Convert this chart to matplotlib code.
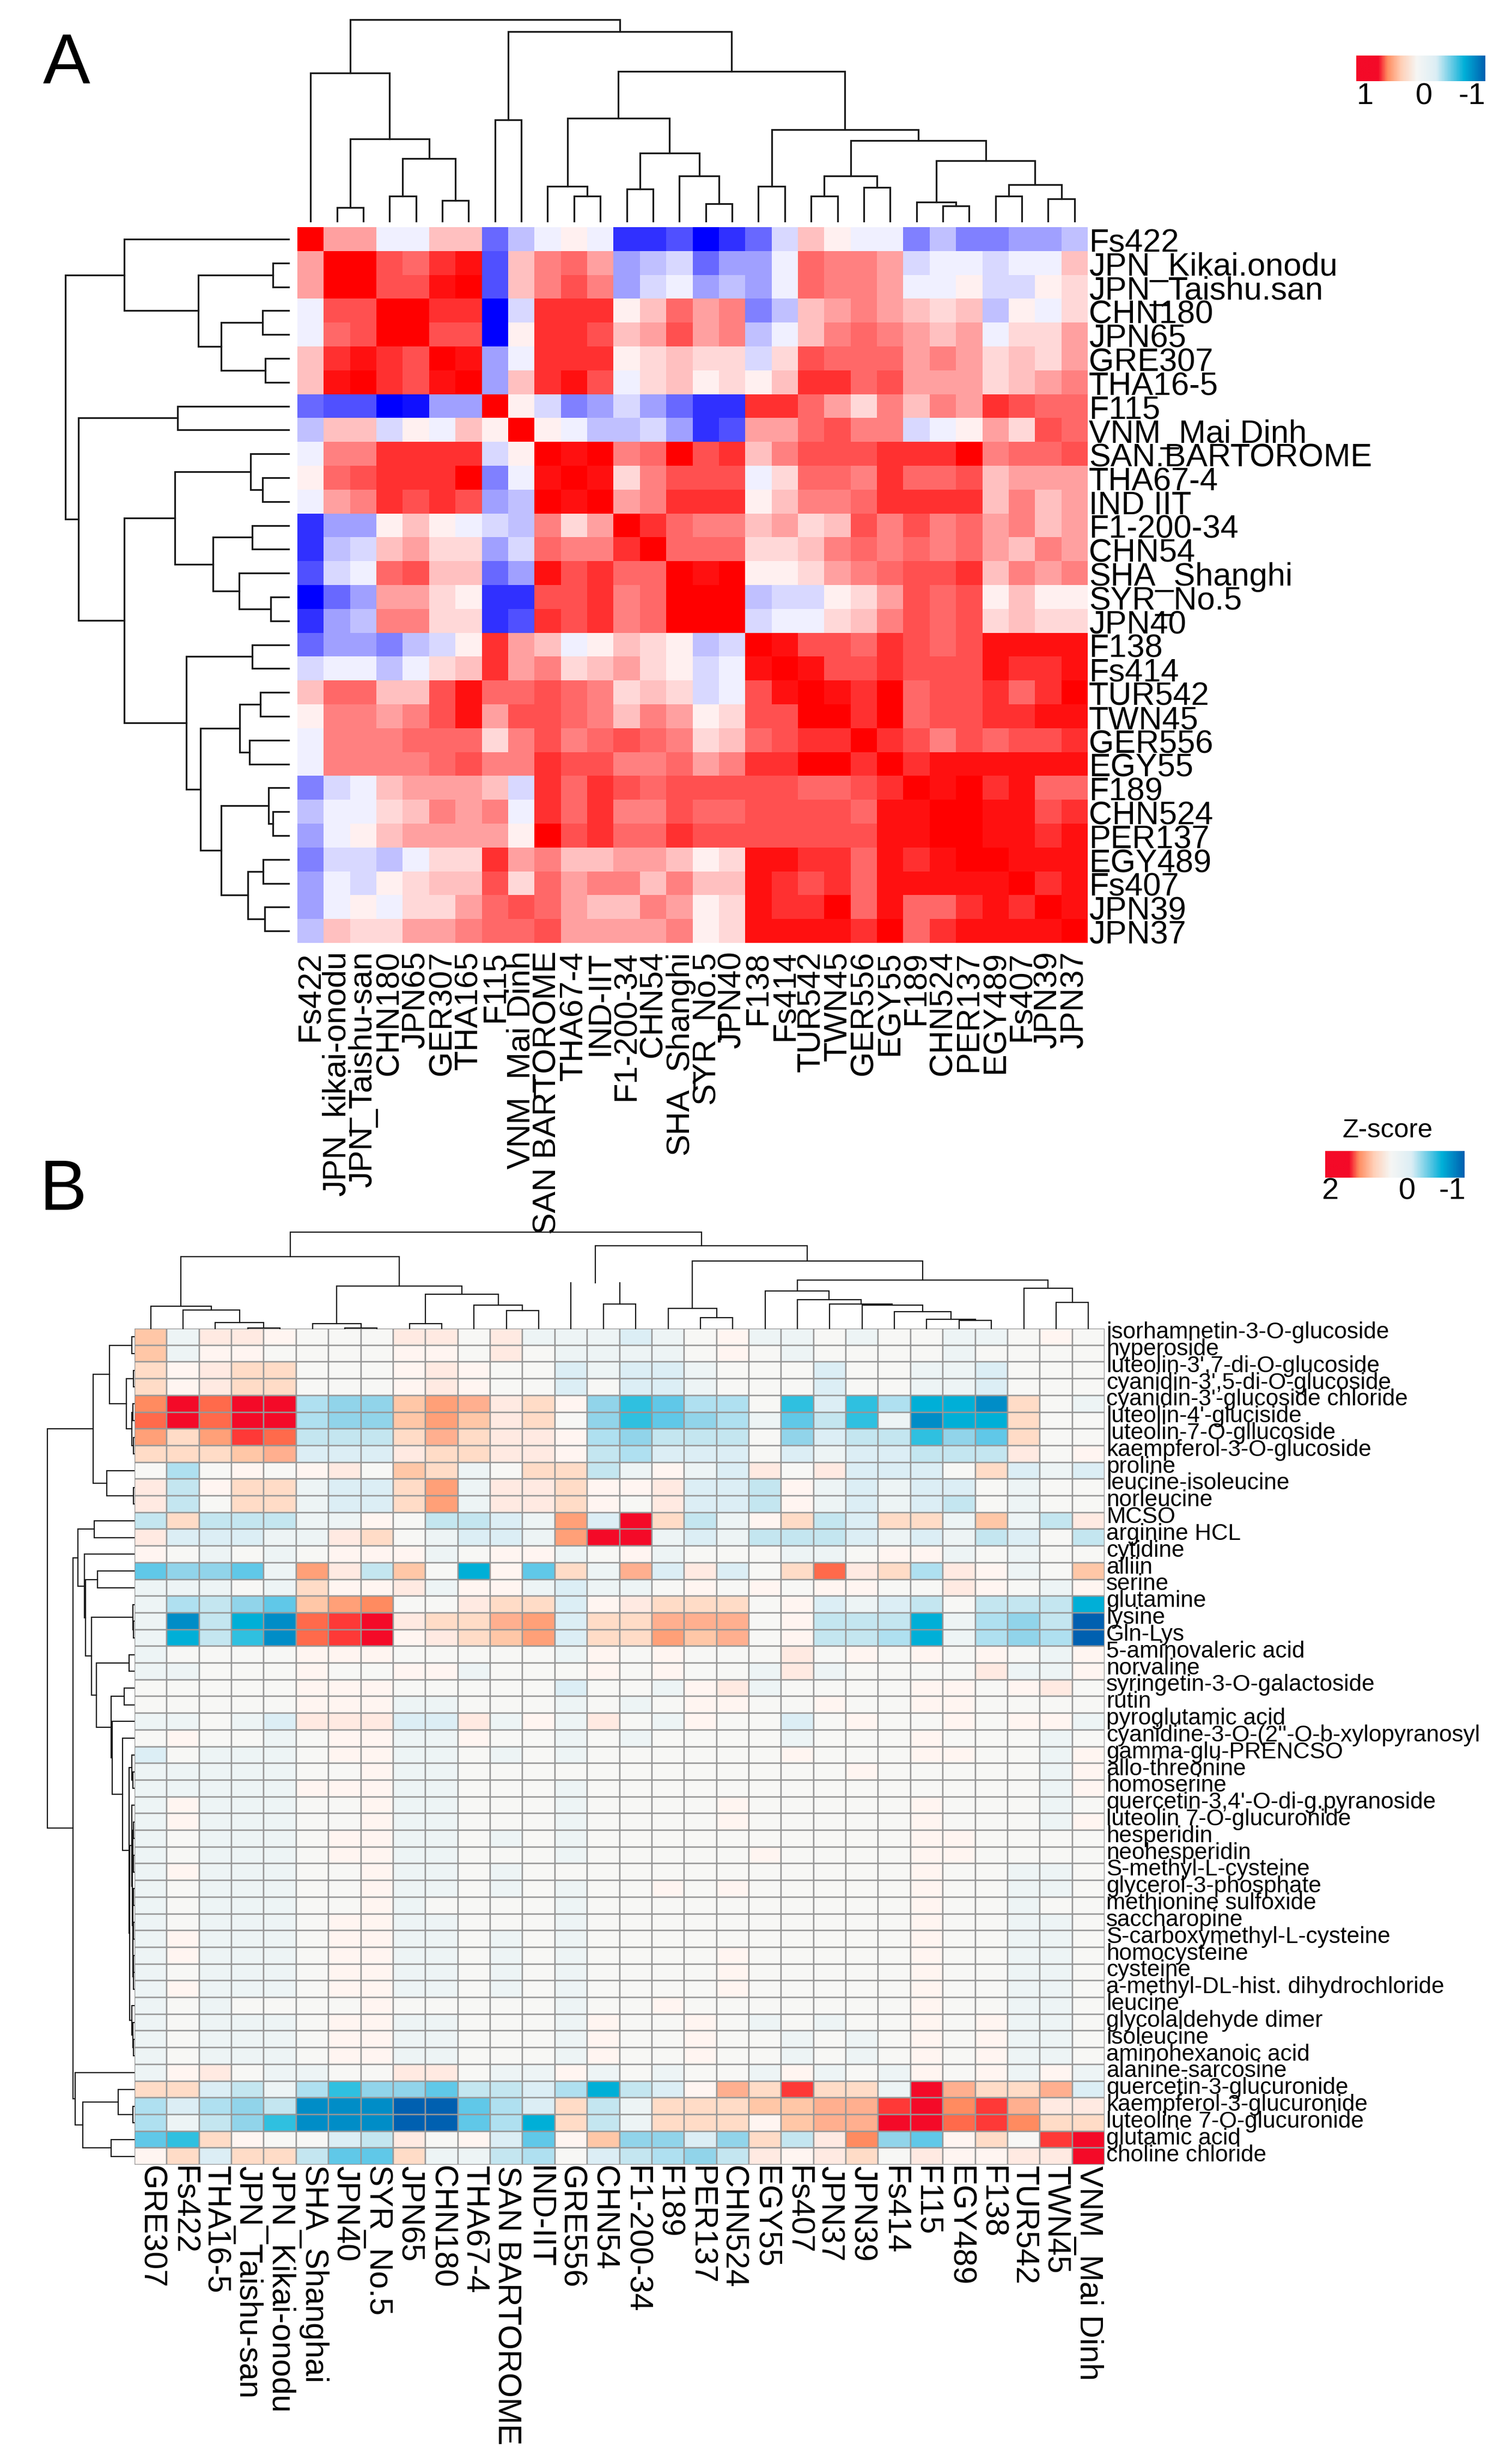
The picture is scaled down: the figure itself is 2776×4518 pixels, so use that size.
import numpy as np
import matplotlib
matplotlib.use("Agg")
import matplotlib.pyplot as plt
from matplotlib.colors import ListedColormap, BoundaryNorm, LinearSegmentedColormap

plt.rcParams['font.family'] = ['Liberation Sans', 'DejaVu Sans']

W, H = 2776, 4518
DPI = 100
PT = 72 / DPI  # one pixel in points

L = None  # leaf of a dendrogram

# ---------------------------- panel A data ----------------------------
A_ROW_LABELS = ["Fs422", "JPN_Kikai.onodu", "JPN_Taishu.san", "CHN180", "JPN65", "GRE307", "THA16-5", "F115",
                "VNM_Mai Dinh", "SAN.BARTOROME", "THA67-4", "IND IIT", "F1-200-34", "CHN54", "SHA_Shanghi",
                "SYR_No.5", "JPN40", "F138", "Fs414", "TUR542", "TWN45", "GER556", "EGY55", "F189", "CHN524",
                "PER137", "EGY489", "Fs407", "JPN39", "JPN37"]
A_COL_LABELS = ["Fs422", "JPN_kikai-onodu", "JPN_Taishu-san", "CHN180", "JPN65", "GER307", "THA165", "F115",
                "VNM_Mai Dinh", "SAN BARTOROME", "THA67-4", "IND-IIT", "F1-200-34", "CHN54", "SHA_Shanghi",
                "SYR_No.5", "JPN40", "F138", "Fs414", "TUR542", "TWN45", "GER556", "EGY55", "F189", "CHN524",
                "PER137", "EGY489", "Fs407", "JPN39", "JPN37"]
# correlation level, -10 (full blue) .. 10 (full red)
A_VALUES = [
    [10,4,4,-1,-1,3,3,-6,-3,-1, 1,-1,-8,-8,-7,-10,-8,-6,-2,3, 1,-1,-1,-5,-3,-5,-5,-4,-4,-3],
    [4,10,10,7,6,8,9,-7,3,5, 6,4,-4,-3,-2,-6,-4,-4,-1,6, 5,5,4,-2,-1,-1,-2,-1,-1,3],
    [4,10,10,7,7,9,10,-7,3,5, 7,5,-4,-2,-1,-4,-3,-4,-1,6, 5,5,4,-1,-1,1,-2,-2,1,2],
    [-1,7,7,10,10,8,8,-10,-2,8, 8,8,1,3,6,4,5,-5,-3,3, 4,5,4,3,2,3,-3,1,-1,2],
    [-1,6,7,10,10,7,7,-10,1,8, 8,7,3,4,7,4,5,-3,-1,3, 5,6,5,4,3,4,-1,2,2,4],
    [3,8,9,8,7,10,9,-4,-1,8, 8,8,1,2,3,2,2,-2,2,7, 6,6,6,4,5,4,2,3,2,4],
    [3,9,10,8,7,9,10,-4,3,8, 9,7,-1,2,3,1,2,1,3,8, 8,6,7,4,4,4,2,3,4,5],
    [-6,-7,-7,-10,-9,-4,-4,10,1,-2, -5,-4,-2,-4,-6,-8,-8,8,8,6, 4,2,5,3,5,4,8,7,6,6],
    [-3,3,3,-2,1,-1,3,1,10,1, -1,-3,-3,-2,-4,-8,-7,4,4,6, 7,5,5,-2,-1,1,4,2,7,6],
    [-1,5,5,8,8,8,8,-2,1,10, 9,10,5,6,10,7,8,3,5,7, 7,7,8,8,8,10,5,6,6,7],
    [1,6,7,8,8,8,10,-5,-1,9, 10,9,2,5,7,7,7,-1,2,6, 6,5,8,6,6,7,3,4,4,4],
    [-1,4,5,8,7,8,7,-4,-3,10, 9,10,4,5,8,8,8,1,3,5, 5,6,8,8,8,8,3,5,3,4],
    [-8,-4,-4,1,3,1,-1,-2,-3,5, 2,4,10,8,6,5,5,3,4,2, 3,7,5,7,5,6,4,5,3,4],
    [-8,-3,-2,3,4,2,2,-4,-2,6, 5,5,8,10,6,6,6,2,2,3, 5,6,5,6,5,6,4,3,5,4],
    [-7,-2,-1,6,7,3,3,-6,-4,9, 7,8,6,6,10,9,10,1,1,2, 4,5,6,7,7,8,3,5,4,5],
    [-10,-6,-4,4,4,2,1,-8,-8,7, 7,8,5,6,10,10,10,-3,-2,-2, 1,2,4,7,6,7,1,3,1,1],
    [-8,-4,-3,5,5,2,2,-8,-7,8, 7,8,5,6,10,10,10,-2,-1,-1, 2,3,5,7,6,7,2,3,2,2],
    [-6,-4,-4,-5,-3,-2,1,8,4,3, -1,1,3,2,1,-3,-2,10,9,7, 7,6,8,7,6,7,9,9,9,9],
    [-2,-1,-1,-3,-1,2,3,8,4,5, 2,3,4,2,1,-2,-1,9,10,9, 7,7,8,7,7,7,9,8,8,9],
    [3,6,6,3,3,7,9,6,6,7, 6,5,2,3,2,-2,-1,7,9,10, 9,8,10,6,7,7,8,6,8,10],
    [1,5,5,4,5,7,9,4,7,7, 6,5,3,5,4,1,2,7,7,10, 10,8,10,6,7,7,8,8,9,9],
    [-1,5,5,5,6,6,6,2,5,7, 5,6,7,6,5,2,3,6,7,8, 8,10,8,7,5,7,6,7,7,8],
    [-1,5,5,5,5,6,7,5,5,8, 7,7,5,5,6,4,5,8,8,10, 10,8,10,8,9,9,9,9,9,9],
    [-5,-2,-1,3,4,4,4,3,-2,8, 6,8,7,6,7,7,7,7,7,6, 6,7,8,10,9,10,8,9,6,6],
    [-3,-1,-1,2,3,5,4,5,-1,8, 6,8,5,5,7,6,6,7,7,7, 7,6,9,9,10,10,9,9,7,8],
    [-4,-1,1,3,4,4,4,4,1,10, 7,8,6,6,8,7,7,7,7,7, 7,7,9,9,10,10,9,9,8,9],
    [-5,-2,-2,-3,-1,2,2,8,4,5, 3,3,4,4,3,1,2,9,9,8, 8,6,9,8,9,10,10,9,9,9],
    [-4,-1,-2,1,2,3,3,7,2,6, 4,5,5,3,5,3,3,9,8,7, 8,6,9,9,9,9,9,10,8,9],
    [-4,-1,1,-1,2,2,4,6,7,6, 4,3,3,5,4,1,2,9,8,8, 10,6,9,6,6,8,9,8,10,9],
    [-3,3,2,2,4,4,5,6,6,7, 4,4,4,4,5,1,2,9,9,9, 9,8,10,6,8,9,9,9,9,10],
]
A_LEVEL_COLOURS = ["#0000ff", "#1010ff", "#3030ff", "#5050ff", "#6868ff", "#8080ff", "#a0a0ff", "#c0c0ff",
                   "#d8d8ff", "#f0f0ff", "#ffffff", "#fff0f0", "#ffd8d8", "#ffc0c0", "#ffa0a0", "#ff8080",
                   "#ff6868", "#ff5050", "#ff3030", "#ff1010", "#ff0000"]
# dendrograms: (height, first child, second child[, draw cross bar]) in leaf order
A_TOP_TREE = (370,
    (272, L, (151, (25, L, L), (115, (46, L, L), (38, L, L)))),
    (348, (186, L, L),
        (275,
            (189, (64, L, (46, L, L)), (125, (59, L, L), (83, L, (32, L, L)))),
            (168, (64, L, L), (148, (83, (46, L, L), (62, L, L)),
                                    (111, (35, L, (28, L, L)), (67, (46, L, L), (41, L, L))))))))
A_LEFT_TREE = (410,
    (302, L, (166, (29, L, L), (124, (48, L, L), (43, L, L)))),
    (386, (204, L, L),
        (302, (209, (70, L, (48, L, L)), (139, (67, L, L), (91, L, (33, L, L)))),
              (188, (67, L, L), (162, (90, (52, L, L), (72, L, L)),
                                      (124, (37, L, (29, L, L)), (75, (47, L, L), (44, L, L))))))))

# ---------------------------- panel B data ----------------------------
B_ROW_LABELS = ["isorhamnetin-3-O-glucoside", "hyperoside", "luteolin-3',7-di-O-glucoside",
                "cyanidin-3',5-di-O-glucoside", "cyanidin-3'-glucoside chloride", "luteolin-4'-gluciside",
                "luteolin-7-O-gllucoside", "kaempferol-3-O-glucoside", "proline", "leucine-isoleucine", "norleucine",
                "MCSO", "arginine HCL", "cytidine", "alliin", "serine", "glutamine", "lysine", "Gln-Lys",
                "5-aminovaleric acid", "norvaline", "syringetin-3-O-galactoside", "rutin", "pyroglutamic acid",
                "cyanidine-3-O-(2''-O-b-xylopyranosyl", "gamma-glu-PRENCSO", "allo-threonine", "homoserine",
                "quercetin-3,4'-O-di-g.pyranoside", "luteolin 7-O-glucuronide", "hesperidin", "neohesperidin",
                "S-methyl-L-cysteine", "glycerol-3-phosphate", "methionine sulfoxide", "saccharopine",
                "S-carboxymethyl-L-cysteine", "homocysteine", "cysteine", "a-methyl-DL-hist. dihydrochloride",
                "leucine", "glycolaldehyde dimer", "isoleucine", "aminohexanoic acid", "alanine-sarcosine",
                "quercetin-3-glucuronide", "kaempferol-3-glucuronide", "luteoline 7-O-glucuronide", "glutamic acid",
                "choline chloride"]
B_COL_LABELS = ["GRE307", "Fs422", "THA16-5", "JPN_Taishu-san", "JPN_Kikai-onodu", "SHA_Shanghai", "JPN40",
                "SYR_No.5", "JPN65", "CHN180", "THA67-4", "SAN BARTOROME", "IND-IIT", "GRE556", "CHN54", "F1-200-34",
                "F189", "PER137", "CHN524", "EGY55", "Fs407", "JPN37", "JPN39", "Fs414", "F115", "EGY489", "F138",
                "TUR542", "TWN45", "VNM_Mai Dinh"]
# colour level, -10 (dark blue) .. 10 (red)
B_VALUES = [
    [4,-1,2,2,1,0,0,0,2,2, 0,2,-1,-1,-1,-2,-1,0,1,-1, -1,0,-1,0,0,-1,-1,0,1,0],
    [4,-1,1,1,0,0,0,0,1,1, 0,2,0,-1,-1,-1,-1,0,1,0, -1,0,0,0,0,-1,0,0,0,0],
    [3,1,2,3,3,0,0,0,1,2, 1,0,0,-2,-1,-2,-2,-1,0,0, 0,-2,0,0,-1,-1,-2,0,0,0],
    [3,1,2,3,3,0,0,0,1,2, 1,0,0,-2,0,-2,-2,-1,0,0, 0,-2,0,0,-1,-1,-2,0,0,0],
    [7,10,8,10,10,-4,-5,-5,4,6, 5,2,3,1,-5,-7,-6,-4,-4,0, -7,-2,-7,-4,-8,-8,-9,3,0,-1],
    [8,10,8,10,10,-4,-5,-5,4,6, 4,2,3,0,-5,-7,-6,-5,-4,-1, -6,-3,-7,-1,-9,-8,-8,3,0,0],
    [6,3,6,9,8,-3,-3,-3,3,5, 3,2,2,1,-4,-5,-3,-3,-3,0, -5,-2,-3,-3,-7,-5,-6,3,0,0],
    [3,3,3,4,5,-2,-2,-2,2,3, 3,2,2,1,-3,-4,-2,-2,-2,0, -2,-1,-2,-2,-3,-3,-3,2,0,1],
    [0,-4,0,1,0,1,2,0,4,3, -1,0,3,3,-3,-1,1,-1,-2,2, 0,2,-2,-2,-2,0,3,-2,-1,-2],
    [2,-3,1,3,3,-1,-2,-2,3,6, -1,2,2,3,1,1,2,-2,-2,-3, 1,-1,-2,-1,-2,-2,0,-1,0,0],
    [2,-3,0,3,3,-1,-2,-2,3,6, -1,2,2,3,1,0,2,-2,-2,-3, 1,-1,-2,-1,-2,-3,0,-1,0,0],
    [-3,3,-3,-3,-3,-1,-1,1,0,-3, -3,-2,-1,6,-2,10,3,-3,-1,1, 3,-3,-2,3,3,-1,4,-1,-3,2],
    [2,-2,-2,-2,-1,-1,2,3,0,-1, -2,-2,-1,6,10,10,-1,-2,-1,-3, -3,-3,-2,-1,-2,-1,-3,-2,0,-3],
    [1,0,-1,0,-1,0,1,1,1,-1, 0,1,1,-1,0,1,-1,0,0,0, -1,-1,0,1,1,-1,0,-1,0,0],
    [-6,-5,-5,-6,-1,6,2,-3,4,0, -8,1,-6,3,-1,5,-2,2,-2,0, 3,8,2,3,-4,2,1,-1,0,4],
    [-1,-1,-1,0,-1,3,1,1,2,-1, 1,1,-1,-2,-1,-1,0,1,0,1, 0,1,1,0,0,2,1,0,-1,1],
    [-1,-4,-3,-5,-6,4,6,7,0,0, 2,3,3,-2,1,2,3,3,3,0, 1,-2,-1,-2,-3,0,-3,-3,-3,-8],
    [-1,-9,-3,-8,-9,8,9,10,2,3, 3,5,6,-2,3,3,5,5,5,0, 1,-3,-3,-3,-8,-1,-4,-5,-3,-10],
    [-1,-8,-3,-7,-9,8,9,10,1,2, 3,4,6,-2,3,3,6,4,5,0, 1,-3,-3,-4,-8,-1,-4,-5,-4,-10],
    [-1,0,0,0,0,1,1,1,0,0, 0,0,0,-1,1,0,1,0,0,0, 2,0,1,0,1,0,1,0,-1,1],
    [-1,-1,0,0,0,1,0,0,1,1, -1,0,0,0,1,0,1,0,0,-1, 2,-1,0,0,0,0,2,-1,-1,1],
    [0,0,0,0,0,1,1,1,0,0, 0,0,0,-2,0,0,-1,1,2,-1, 0,0,0,0,1,1,0,1,2,0],
    [0,0,0,0,0,1,1,1,-1,-1, 0,0,0,-1,0,-1,0,1,1,0, 0,1,0,0,1,1,0,0,0,0],
    [-1,-1,0,-1,-2,2,2,2,-2,-2, 2,-1,1,-1,2,0,-1,1,0,0, -2,0,1,0,0,1,0,1,1,-1],
    [0,1,0,0,-1,0,1,1,-1,-1, 1,0,0,-1,0,-1,0,0,0,0, -1,0,0,0,1,0,0,0,-1,0],
    [-2,0,-1,-1,-1,0,1,1,-1,-1, 0,-1,0,-1,0,0,0,0,0,0, 1,0,0,0,1,1,0,0,-1,1],
    [-1,-1,-1,-1,-1,0,0,1,-1,-1, 0,0,0,0,0,0,0,0,0,0, 0,0,1,0,0,0,0,0,-1,1],
    [-1,-1,-1,-1,-1,1,1,1,-1,-1, 0,0,0,-1,0,0,0,0,0,0, 0,0,0,0,0,0,0,0,-1,1],
    [-1,1,-1,-1,-1,0,0,1,-1,-1, 0,0,0,-1,0,0,0,0,1,0, 0,0,0,0,1,0,0,0,-1,0],
    [-1,1,-1,-1,-1,0,0,1,-1,-1, 0,0,0,-1,0,0,0,0,1,0, 0,0,0,0,1,0,0,0,-1,1],
    [-1,0,-1,-1,-1,0,1,1,-1,-1, 0,-1,0,-1,0,0,0,0,0,0, 0,0,0,0,1,1,0,0,0,0],
    [-1,0,-1,-1,-1,0,1,1,-1,-1, 0,0,0,-1,0,0,0,0,0,1, 0,0,0,0,1,1,0,0,0,0],
    [-1,1,-1,-1,-1,0,0,1,-1,-1, 0,-1,0,0,0,0,0,0,0,0, 0,0,0,0,1,0,0,-1,-1,0],
    [-1,0,-1,-1,-1,0,0,1,-1,-1, 0,-1,0,-1,0,0,1,0,1,0, 0,0,0,0,1,0,0,-1,-1,0],
    [-1,0,-1,-1,-1,0,0,1,-1,0, 0,0,0,-1,0,0,0,0,0,0, 0,0,0,0,1,0,0,-1,0,0],
    [-1,0,-1,-1,-1,0,1,1,-1,-1, 0,0,0,-1,0,0,0,0,0,0, 0,0,0,0,1,0,0,-1,-1,0],
    [-1,1,-1,-1,-1,0,1,1,-1,-1, 0,-1,0,-1,0,0,0,0,0,0, 0,0,0,0,1,0,0,-1,-1,0],
    [-1,1,-1,-1,-1,0,1,1,-1,-1, 0,-1,0,-1,0,0,0,0,1,0, 0,0,0,0,1,0,0,-1,-1,0],
    [-1,0,-1,-1,-1,0,1,1,-1,-1, 0,-1,0,-1,0,0,0,0,1,0, 0,0,0,0,1,0,0,-1,-1,0],
    [-1,1,-1,-1,-1,0,1,1,-1,-1, 0,-1,0,-1,0,0,0,0,1,0, 0,0,0,0,1,0,0,-1,-1,0],
    [-1,0,-1,0,0,0,0,1,0,0, 0,0,0,-1,0,0,1,0,0,0, 0,0,0,0,1,0,0,-1,-1,0],
    [-1,0,-1,-1,-1,0,1,1,-1,-1, 0,0,0,-1,1,0,0,1,0,-1, 0,-1,0,0,1,0,1,-1,-1,0],
    [-1,0,-1,-1,-1,0,1,1,-1,-1, 0,0,0,-1,1,0,0,1,0,0, -1,0,-1,0,1,0,1,-1,-1,0],
    [-1,0,-1,-1,-1,0,1,1,-1,-1, 0,0,0,-1,1,0,0,1,0,0, -1,0,-1,0,1,0,1,-1,-1,0],
    [-1,1,2,0,-1,-1,0,0,2,2, 0,-1,-1,1,-1,0,-1,0,0,-1, 1,-1,0,-1,1,0,1,-1,1,-1],
    [3,3,-2,-3,-1,-4,-7,-5,-5,-6, -3,-3,-2,-4,-8,-3,-2,1,5,3, 9,3,3,-1,10,5,3,3,5,-2],
    [-4,-2,-4,-5,-3,-9,-9,-9,-10,-10, -6,-4,-2,3,-3,-1,3,3,3,4, 4,5,5,9,10,7,9,5,2,2],
    [-4,-1,-3,-5,-7,-9,-9,-9,-10,-10, -6,-4,-8,3,-3,-1,3,3,3,1, 4,5,5,10,10,8,9,7,3,3],
    [-6,-7,3,1,0,0,-2,-3,2,0, 1,-2,-6,1,4,-5,-5,-2,-5,3, -3,2,7,-5,-6,1,3,0,9,10],
    [1,3,-2,3,3,-3,-6,-6,3,-1, -1,-3,-4,0,-2,-3,-4,-5,-3,2, 1,2,3,0,2,1,1,2,2,10],
]
B_LEVEL_COLOURS = ["#0060b0", "#0090c8", "#00b0d8", "#30c0e0", "#60c8e8", "#90d4ea", "#b0e0f0", "#c4e6f0",
                   "#dceef5", "#edf4f5", "#f7f7f5", "#fff5f1", "#ffeae2", "#ffdcc8", "#ffc8a8", "#ffb090",
                   "#ffa078", "#ff8c60", "#ff6c4c", "#ff3c38", "#f40a28"]
B_TOP_TREE = (177,
    (132, (41, L, (34, L, (11, L, (1, L, L)))),
          (78, (9, L, (1, L, L)), (63, (9, L, L), (43, L, (33, L, L))))),
    (152, (84, L, (45, L, L), False),
          (124, (37, L, (20, L, L)),
                (89, (69, L, (53, L, (45, L, (43, L, (31, L, (17, L, (15, L, L))))))),
                     (74, L, (48, L, L))))))
B_CHAIN_A = (4, L, (3, (2, (1, L, L), (1, L, L)), (2, (1, L, L), (2, (1, L, L), (1, (1, L, L), L)))))
B_CHAIN_B = (4, L, (2, L, (1, L, L)))
B_LEFT_TREE = (159,
    (75, (45, (4, L, L), (14, (1, L, L), (4, (2, L, L), (1, L, L)))), (50, L, (1, L, L))),
    (112,
        (103, (73, L, L),
              (91, L, (89, (67, L, L),
                       (78, (2, L, (1, L, L)),
                        (69, (9, L, L),
                         (42, (18, L, L),
                          (40, L, (21, L, (9, (4, L, (2, L, L)), (8, B_CHAIN_A, B_CHAIN_B))))))))) ),
        (108, L, (94, (29, L, (2, L, L)), (42, L, L)))))

LEGEND_STOPS = [(0.0, "#f40a28"), (0.17, "#f40a28"), (0.24, "#ff8c60"), (0.35, "#ffd0b8"), (0.47, "#f6f6f4"),
                (0.62, "#dceef5"), (0.78, "#40c0e0"), (0.84, "#00b0d8"), (1.0, "#0060b0")]


# ---------------------------- helpers ----------------------------
fig = plt.figure(figsize=(W / DPI, H / DPI), dpi=DPI, facecolor="white")


def ax_px(x0, y0, x1, y1):
    """Axes from a box given in image pixels (y downwards)."""
    ax = fig.add_axes([x0 / W, 1 - y1 / H, (x1 - x0) / W, (y1 - y0) / H])
    for s in ax.spines.values():
        s.set_visible(False)
    ax.tick_params(length=0)
    return ax


def draw_tree(ax, tree, vertical, lw, colour):
    n = [0]

    def seg(xs, hs):
        if vertical:
            ax.plot(xs, hs, color=colour, lw=lw, solid_capstyle="projecting", solid_joinstyle="miter", clip_on=False)
        else:
            ax.plot(hs, xs, color=colour, lw=lw, solid_capstyle="projecting", solid_joinstyle="miter", clip_on=False)

    def walk(node):
        if node is None:
            n[0] += 1
            return n[0] - 0.5, 0
        h, a, b = node[:3]
        pa, ha = walk(a)
        pb, hb = walk(b)
        if len(node) > 3 and node[3] is False:
            seg([pa, pa], [ha, h])
            seg([pb, pb], [hb, h])
        else:
            seg([pa, pa, pb, pb], [ha, h, h, hb])
        return (pa + pb) / 2, h

    walk(tree)
    return n[0]


def heat_axes(box, values, cmap, norm, edge=None, lw=0):
    ax = ax_px(*box)
    v = np.array(values)
    ax.pcolormesh(np.arange(v.shape[1] + 1), np.arange(v.shape[0] + 1), v, cmap=cmap, norm=norm,
                  edgecolors=edge if edge else "face", linewidth=lw, antialiased=bool(edge))
    ax.set_xlim(0, v.shape[1])
    ax.set_ylim(v.shape[0], 0)
    return ax


def legend(box, labels, size):
    ax = ax_px(*box)
    cm = LinearSegmentedColormap.from_list("legend", LEGEND_STOPS)
    ax.imshow(np.linspace(0, 1, 300)[None, :], aspect="auto", cmap=cm, vmin=0, vmax=1)
    ax.set_xticks([])
    ax.set_yticks([])
    for txt, x, ha, y in labels:
        fig.text(x / W, 1 - y / H, txt, ha=ha, va="center", fontsize=size * PT, color="black")


# ---------------------------- panel A ----------------------------
A_BOX = (546, 417, 1997, 1731)
cmapA = ListedColormap(A_LEVEL_COLOURS)
normA = BoundaryNorm(np.arange(-10.5, 11.5, 1), cmapA.N)
axA = heat_axes(A_BOX, A_VALUES, cmapA, normA)
axA.xaxis.tick_bottom()
axA.set_xticks(np.arange(30) + 0.5)
axA.set_xticklabels(A_COL_LABELS, rotation=90, ha="center", va="top", fontsize=59.5 * PT)
axA.tick_params(axis="x", pad=15 * PT, length=0)
axA.yaxis.tick_right()
axA.set_yticks(np.arange(30) + 0.5 + 0.18)
axA.set_yticklabels(A_ROW_LABELS, ha="left", va="center", fontsize=59.5 * PT)
axA.tick_params(axis="y", pad=2 * PT, length=0)

axAt = ax_px(546, 405.5 - 372, 1997, 405.5)
axAt.set_xlim(0, 30)
axAt.set_ylim(0, 372)
draw_tree(axAt, A_TOP_TREE, True, 3.2 * PT, "#1a1a1a")
axAt.axis("off")

axAl = ax_px(530 - 412, 417, 530, 1731)
axAl.set_xlim(412, 0)
axAl.set_ylim(30, 0)
draw_tree(axAl, A_LEFT_TREE, False, 3.2 * PT, "#1a1a1a")
axAl.axis("off")

legend((2490, 102, 2727, 149), [("1", 2491, "left", 177), ("0", 2614, "center", 177), ("-1", 2727, "right", 177)], 56)

# ---------------------------- panel B ----------------------------
B_BOX = (247, 2439, 2028, 3974)
cmapB = LinearSegmentedColormap.from_list("zscore", B_LEVEL_COLOURS)
axB = heat_axes(B_BOX, B_VALUES, cmapB, plt.Normalize(-10, 10), edge="#979797", lw=2.5 * PT)
axB.xaxis.tick_bottom()
axB.set_xticks(np.arange(30) + 0.5)
axB.set_xticklabels(B_COL_LABELS, rotation=270, ha="center", va="top", fontsize=58.7 * PT)
axB.tick_params(axis="x", pad=2 * PT, length=0)
axB.yaxis.tick_right()
axB.set_yticks(np.arange(50) + 0.5 - np.linspace(0.27, 0.07, 50))
axB.set_yticklabels(B_ROW_LABELS, ha="left", va="center", fontsize=42.2 * PT)
axB.tick_params(axis="y", pad=3 * PT, length=0)

axBt = ax_px(247, 2439 - 178, 2028, 2439)
axBt.set_xlim(0, 30)
axBt.set_ylim(0, 178)
draw_tree(axBt, B_TOP_TREE, True, 2.2 * PT, "#1a1a1a")
axBt.axis("off")

axBl = ax_px(246 - 160, 2439, 246, 3974)
axBl.set_xlim(160, 0)
axBl.set_ylim(50, 0)
draw_tree(axBl, B_LEFT_TREE, False, 2.2 * PT, "#1a1a1a")
axBl.axis("off")

legend((2433, 2113, 2689, 2162), [("2", 2442, "center", 2187), ("0", 2583, "center", 2187), ("-1", 2691, "right", 2187)], 56)
fig.text(2547 / W, 1 - 2076 / H, "Z-score", ha="center", va="center", fontsize=49 * PT, color="black")

# ---------------------------- panel letters ----------------------------
fig.text(79 / W, 1 - 153 / H, "A", ha="left", va="baseline", fontsize=130 * PT, color="black")
fig.text(72 / W, 1 - 2221 / H, "B", ha="left", va="baseline", fontsize=130 * PT, color="black")

fig.savefig("out.png", dpi=DPI, facecolor="white")
